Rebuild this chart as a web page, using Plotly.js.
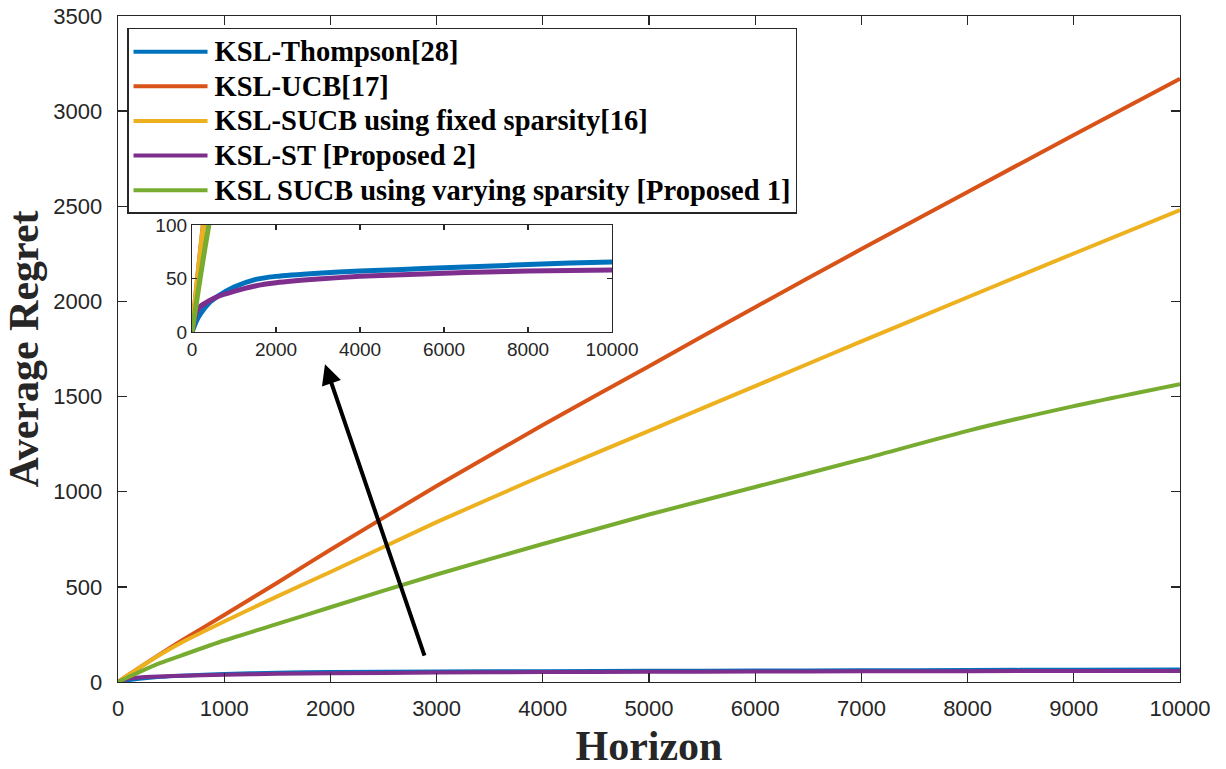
<!DOCTYPE html>
<html>
<head>
<meta charset="utf-8">
<script src="https://cdn.plot.ly/plotly-3.0.1.min.js"></script>
<style>html,body{margin:0;padding:0;background:#fff;}#chart{width:1226px;height:769px;}</style>
</head>
<body>
<div id="chart"></div>
<script>
// Horizon (x) values
var horizon = [0, 100, 200, 400, 600, 1000, 1500, 2000, 3000, 4000, 5000, 6000, 7000, 8000, 9000, 10000];

// Average regret per algorithm
var thompson = [0, 10, 17, 27, 33, 42, 49, 52, 55, 57, 58.5, 60, 61.5, 63, 64.5, 65.5];
var ucb      = [0, 38, 75, 148, 218, 352, 522, 695, 1030, 1350, 1660, 1970, 2275, 2575, 2875, 3170];
var sucbFixed= [0, 38, 75, 145, 208, 318, 450, 578, 840, 1085, 1320, 1555, 1790, 2022, 2252, 2480];
var kslST    = [0, 18, 24, 29, 33, 38, 43, 46, 49.5, 52, 53.5, 55, 56, 57, 57.5, 58];
var sucbVary = [0, 26, 52, 100, 140, 218, 305, 393, 565, 725, 880, 1025, 1170, 1320, 1450, 1565];

var names = ['KSL-Thompson[28]', 'KSL-UCB[17]', 'KSL-SUCB using fixed sparsity[16]', 'KSL-ST [Proposed 2]', 'KSL SUCB using varying sparsity [Proposed 1]'];
var series = [thompson, ucb, sucbFixed, kslST, sucbVary];
var colors = ['#0072BD', '#D95319', '#EDB120', '#7E2F8E', '#77AC30'];

var mainTicksX = [0,1000,2000,3000,4000,5000,6000,7000,8000,9000,10000];
var mainTicksY = [0,500,1000,1500,2000,2500,3000,3500];
var insetTicksX = [0,2000,4000,6000,8000,10000];
var insetTicksY = [0,50,100];

var traces = [];
series.forEach(function(s, i){
  traces.push({x: horizon, y: s, name: '<span style="font-size:28.5px">' + names[i] + '</span>',
    type: 'scatter', mode: 'lines',
    line: {color: colors[i], width: 4, shape: 'spline', smoothing: 0.6},
    xaxis: 'x', yaxis: 'y'});
});
series.forEach(function(s, i){
  traces.push({x: horizon, y: s, name: names[i], type: 'scatter', mode: 'lines', showlegend: false,
    line: {color: colors[i], width: 5, shape: 'spline', smoothing: 0.6},
    xaxis: 'x2', yaxis: 'y2'});
});

var axColor = '#262626';
var layout = {
  width: 1226, height: 769,
  margin: {l: 118, r: 46, t: 16, b: 87},
  paper_bgcolor: '#fff', plot_bgcolor: '#fff',
  showlegend: true,
  xaxis: {
    domain: [0, 1], range: [0, 10000], tickvals: mainTicksX, tickformat: 'd',
    ticks: 'inside', ticklen: 9, tickwidth: 1.3, tickcolor: axColor,
    showline: true, linecolor: axColor, linewidth: 1.3, mirror: 'allticks',
    showgrid: false, zeroline: false,
    tickfont: {family: 'Liberation Sans, Arial, sans-serif', size: 22, color: axColor},
    ticklabelstandoff: 6,
    title: {text: '<b>Horizon</b>', font: {family: 'Liberation Serif, Times New Roman, serif', size: 42, color: axColor}, standoff: 11}
  },
  yaxis: {
    domain: [0, 1], range: [0, 3500], tickvals: mainTicksY, tickformat: 'd',
    ticks: 'inside', ticklen: 9, tickwidth: 1.3, tickcolor: axColor,
    showline: true, linecolor: axColor, linewidth: 1.3, mirror: 'allticks',
    showgrid: false, zeroline: false,
    tickfont: {family: 'Liberation Sans, Arial, sans-serif', size: 22, color: axColor},
    ticklabelstandoff: 10,
    title: {text: '<b>Average Regret</b>', font: {family: 'Liberation Serif, Times New Roman, serif', size: 42, color: axColor}, standoff: 1}
  },
  xaxis2: {
    domain: [0.0697, 0.4652], range: [0, 10000], tickvals: insetTicksX, tickformat: 'd', anchor: 'y2',
    ticks: 'inside', ticklen: 5, tickwidth: 1.2, tickcolor: axColor,
    showline: true, linecolor: axColor, linewidth: 1.2, mirror: 'allticks',
    showgrid: false, zeroline: false,
    tickfont: {family: 'Liberation Sans, Arial, sans-serif', size: 19, color: axColor}
  },
  yaxis2: {
    domain: [0.5255, 0.6862], range: [0, 100], tickvals: insetTicksY, anchor: 'x2',
    ticks: 'inside', ticklen: 5, tickwidth: 1.2, tickcolor: axColor,
    showline: true, linecolor: axColor, linewidth: 1.2, mirror: 'allticks',
    showgrid: false, zeroline: false,
    tickfont: {family: 'Liberation Sans, Arial, sans-serif', size: 19, color: axColor}
  },
  legend: {
    x: 0.0085, y: 0.982, xanchor: 'left', yanchor: 'top',
    bgcolor: '#fff', bordercolor: axColor, borderwidth: 1.5,
    font: {family: 'Liberation Serif, Times New Roman, serif', size: 24.3, color: '#000', weight: 'bold'},
    itemwidth: 76, tracegroupgap: 0
  },
  annotations: [{
    x: 1949, y: 1670, xref: 'x', yref: 'y', ax: 100, ay: 293,
    showarrow: true, arrowhead: 2, arrowsize: 1, arrowwidth: 4, arrowcolor: '#000', text: ''
  }]
};

Plotly.newPlot('chart', traces, layout, {displayModeBar: false, staticPlot: true}).then(function(gd){
  // lengthen the legend line samples to match the reference
  var paths = gd.querySelectorAll('.legend .legendlines path');
  paths.forEach(function(p){ p.setAttribute('d', 'M5,0h74'); });
});
</script>
</body>
</html>
